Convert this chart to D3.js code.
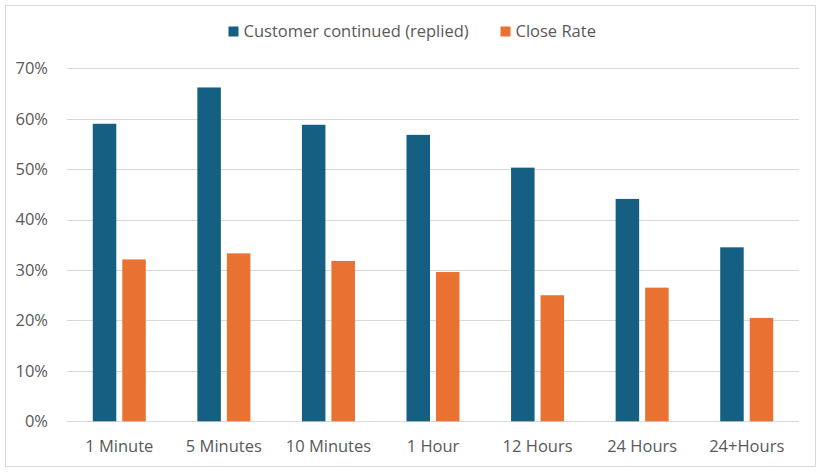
<!DOCTYPE html>
<html><head><meta charset="utf-8">
<script src="https://cdn.jsdelivr.net/npm/d3@7"></script>
<style>html,body{margin:0;padding:0;background:#fff;}svg{display:block;font-family:"Open Sans",sans-serif;}</style>
</head><body>
<svg id="c" width="820" height="472"></svg>
<script>
const categories = ["1 Minute","5 Minutes","10 Minutes","1 Hour","12 Hours","24 Hours","24+Hours"];
const replied = [0.590,0.662,0.588,0.568,0.503,0.441,0.345];
const closeRate = [0.321,0.333,0.318,0.296,0.250,0.265,0.205];
const seriesNames = ["Customer continued (replied)","Close Rate"];
const colors = ["#156082","#E97132"];
const yTicks = [0,0.1,0.2,0.3,0.4,0.5,0.6,0.7];

(function(){
const FS = "16.5px";
const svg = d3.select("#c");
svg.append("rect").attr("x",5.5).attr("y",5.5).attr("width",810).attr("height",461)
  .attr("fill","#fff").attr("stroke","#d9d9d9");

const pl=67, pr=799, pt=68.3, pb=421.3;
const x = d3.scaleBand().domain(categories).range([pl,pr]).padding(0);
const y = d3.scaleLinear().domain([0,0.7]).range([pb,pt]);
const inner = d3.scaleBand().domain([0,1]).range([0,x.bandwidth()]).paddingInner(0.203).paddingOuter(0.874);

svg.append("g").selectAll("line").data(yTicks).join("line")
  .attr("x1",pl).attr("x2",pr)
  .attr("y1",d=>Math.round(y(d))+0.5).attr("y2",d=>Math.round(y(d))+0.5)
  .attr("stroke","#d9d9d9").attr("stroke-width",1);

const yAxis = d3.axisLeft(y).tickValues(yTicks).tickFormat(d3.format(".0%")).tickSize(0).tickPadding(0);
const ya = svg.append("g").attr("transform",`translate(48,0)`).call(yAxis);
ya.select(".domain").remove();
ya.selectAll("text").attr("fill","#595959").attr("font-size",FS).attr("font-family","Open Sans, sans-serif");

const series = [replied, closeRate];
series.forEach((vals,si)=>{
  svg.append("g").selectAll("rect").data(vals).join("rect")
    .attr("x",(d,i)=>x(categories[i])+inner(si))
    .attr("width",inner.bandwidth())
    .attr("y",d=>y(d))
    .attr("height",d=>pb-y(d))
    .attr("fill",colors[si]);
});

const xAxis = d3.axisBottom(x).tickSize(0).tickPadding(0);
const xa = svg.append("g").attr("transform",`translate(0,440)`).call(xAxis);
xa.select(".domain").remove();
xa.selectAll("text").attr("fill","#595959").attr("font-size",FS).attr("font-family","Open Sans, sans-serif");

const lg = svg.append("g");
const legendX = [228.5, 500.5];
seriesNames.forEach((n,i)=>{
  lg.append("rect").attr("x",legendX[i]).attr("y",26.5).attr("width",10).attr("height",10).attr("fill",colors[i]);
  lg.append("text").attr("x",legendX[i]+15).attr("y",31.5).attr("dy","0.35em")
    .attr("fill","#595959").attr("font-size",FS).text(n);
});
})();
</script>
</body></html>
